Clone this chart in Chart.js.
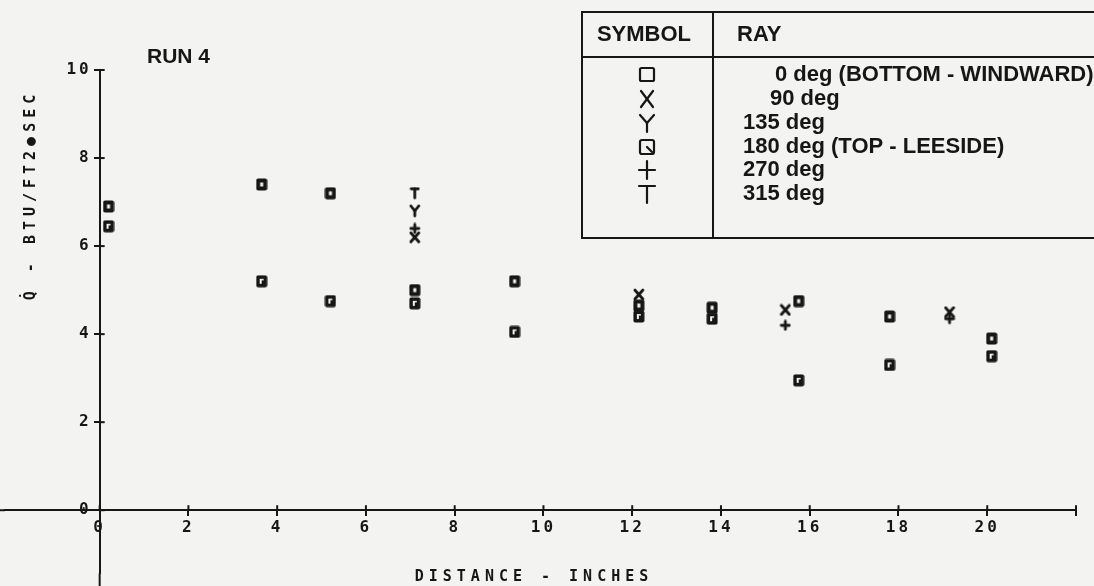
<!DOCTYPE html>
<html>
<head>
<meta charset="utf-8">
<script src="https://cdn.jsdelivr.net/npm/chart.js@4.4.1/dist/chart.umd.min.js"></script>
<style>
  html, body { margin: 0; padding: 0; background: #f3f3f1; }
  canvas { display: block; }
</style>
</head>
<body>
<canvas id="heatChart" width="1094" height="586"></canvas>
<script>
// tick labels
const xTicks = [0, 2, 4, 6, 8, 10, 12, 14, 16, 18, 20];
const yTicks = [0, 2, 4, 6, 8, 10];

const stationX = [0.2, 3.65, 5.2, 7.1, 9.35, 12.15, 13.8, 15.75, 17.8, 20.1];
const ray0Q = [6.9, 7.4, 7.2, 5.0, 5.2, 4.65, 4.6, 4.75, 4.4, 3.9];
const ray180Q = [6.45, 5.2, 4.75, 4.7, 4.05, 4.4, 4.35, 2.95, 3.3, 3.5];
const ray90X = [7.1, 12.15, 15.45, 19.15];
const ray90Q = [6.2, 4.9, 4.55, 4.5];
const ray135X = [7.1];
const ray135Q = [6.8];
const ray270X = [7.1, 15.45, 19.15];
const ray270Q = [6.4, 4.2, 4.35];
const ray315X = [7.1];
const ray315Q = [7.2];

const rayLabels = ['0 deg (BOTTOM - WINDWARD)', '90 deg', '135 deg', '180 deg (TOP - LEESIDE)', '270 deg', '315 deg'];

const INK = '#161616';
const PAPER = '#f3f3f1';
const PLOT_FONT = '"DejaVu Sans Mono", monospace';

// little canvases used as point symbols
function glyph(w, h, draw) {
    const c = document.createElement('canvas');
    c.width = w;
    c.height = h;
    const g = c.getContext('2d');
    g.strokeStyle = INK;
    g.fillStyle = INK;
    g.lineCap = 'round';
    g.lineWidth = 2.8;
    draw(g, w, h);
    return c;
}

function line(g, x1, y1, x2, y2) {
    g.beginPath();
    g.moveTo(x1, y1);
    g.lineTo(x2, y2);
    g.stroke();
}

const squareMark = glyph(12, 13, (g) => {
    g.beginPath();
    g.roundRect(0.5, 0.5, 11, 12, 2);
    g.fill();
    g.fillStyle = PAPER;
    g.fillRect(4.5, 4.5, 3, 4);
});
const leeMark = glyph(12, 13, (g) => {
    g.beginPath();
    g.roundRect(0.5, 0.5, 11, 12, 2);
    g.fill();
    g.fillStyle = PAPER;
    g.fillRect(4, 4, 2, 5);
    g.fillRect(4, 4, 4, 1.5);
});
const xMark = glyph(12, 13, (g) => {
    line(g, 2, 2, 10, 11);
    line(g, 10, 2, 2, 11);
});
const yMark = glyph(12, 14, (g) => {
    line(g, 2, 2, 6, 7);
    line(g, 10, 2, 6, 7);
    line(g, 6, 7, 6, 12);
});
const plusMark = glyph(12, 12, (g) => {
    line(g, 2, 6, 10, 6);
    line(g, 6, 2, 6, 10);
});
const tMark = glyph(11, 13, (g) => {
    line(g, 2, 2, 9, 2);
    line(g, 5.5, 2, 5.5, 11);
});

function pts(xs, ys) {
    return xs.map((x, i) => ({ x: x, y: ys[i] }));
}

function series(label, xs, ys, mark) {
    return {
        label: label,
        data: pts(xs, ys),
        pointStyle: mark,
        showLine: false
    };
}

// cross-shaped tick marks, y labels, axis titles, run label and the symbol table
const decorations = {
    id: 'decorations',
    beforeDraw(chart) {
        chart.ctx.letterSpacing = '3px';
    },
    afterDraw(chart) {
        const ctx = chart.ctx;
        const xs = chart.scales.x;
        const ys = chart.scales.y;
        const area = chart.chartArea;
        const axisY = ys.getPixelForValue(0);
        const axisX = xs.getPixelForValue(0);
        ctx.save();
        ctx.strokeStyle = INK;
        ctx.fillStyle = INK;
        ctx.lineWidth = 2;
        // the axes run on to the page edges
        line(ctx, 0, axisY, area.left, axisY);
        line(ctx, axisX, area.bottom, axisX, chart.height);
        xs.ticks.forEach(t => {
            const px = xs.getPixelForValue(t.value);
            line(ctx, px, axisY - 5, px, axisY);
        });
        ctx.font = 'bold 16px ' + PLOT_FONT;
        ctx.textAlign = 'right';
        ctx.textBaseline = 'middle';
        ys.ticks.forEach(t => {
            const py = ys.getPixelForValue(t.value);
            line(ctx, axisX, py, axisX + 5, py);
            ctx.fillText(String(t.value), axisX - 8, py);
        });

        // axis titles in plotter lettering
        ctx.font = 'bold 15px ' + PLOT_FONT;
        ctx.letterSpacing = '5px';
        ctx.textAlign = 'center';
        ctx.fillText('DISTANCE - INCHES', 534, 577);
        ctx.save();
        ctx.translate(31, 195);
        ctx.rotate(-Math.PI / 2);
        ctx.fillText('Q\u0307 - BTU/FT2\u25CFSEC', 0, 0);
        ctx.restore();

        ctx.letterSpacing = '0px';
        ctx.font = 'bold 21px "Liberation Sans", Arial, sans-serif';
        ctx.textAlign = 'left';
        ctx.fillText('RUN 4', 147, 57);

        // symbol table
        const left = 582, top = 12, bottom = 238, headY = 57, colX = 713;
        ctx.font = 'bold 22px "Liberation Sans", Arial, sans-serif';
        ctx.lineWidth = 2;
        ctx.strokeRect(left, top, 1094 - left + 10, bottom - top);
        line(ctx, left, headY, 1094, headY);
        line(ctx, colX, top, colX, bottom);
        ctx.textAlign = 'center';
        ctx.fillText('SYMBOL', 644, 35);
        ctx.textAlign = 'left';
        ctx.fillText('RAY', 737, 35);

        const rowY = [75, 99, 123, 147, 170, 194];
        const textX = [775, 770, 743, 743, 743, 743];
        rayLabels.forEach((lab, i) => {
            ctx.fillText(lab, textX[i], rowY[i]);
        });

        const cx = 647;
        ctx.lineWidth = 2.2;
        ctx.lineCap = 'round';
        // 0 deg
        ctx.beginPath();
        ctx.roundRect(cx - 7, rowY[0] - 7, 14, 13, 1.5);
        ctx.stroke();
        // 90 deg
        line(ctx, cx - 6, rowY[1] - 8, cx + 6, rowY[1] + 8);
        line(ctx, cx + 6, rowY[1] - 8, cx - 6, rowY[1] + 8);
        // 135 deg
        line(ctx, cx - 7, rowY[2] - 8, cx, rowY[2]);
        line(ctx, cx + 7, rowY[2] - 8, cx, rowY[2]);
        line(ctx, cx, rowY[2], cx, rowY[2] + 9);
        // 180 deg
        ctx.beginPath();
        ctx.roundRect(cx - 7, rowY[3] - 7, 14, 14, 2);
        ctx.stroke();
        line(ctx, cx, rowY[3], cx + 5, rowY[3] + 5);
        // 270 deg
        line(ctx, cx - 8, rowY[4], cx + 8, rowY[4]);
        line(ctx, cx, rowY[4] - 9, cx, rowY[4] + 9);
        // 315 deg
        line(ctx, cx - 8, rowY[5] - 8, cx + 8, rowY[5] - 8);
        line(ctx, cx, rowY[5] - 8, cx, rowY[5] + 9);
        ctx.restore();
    }
};

const heatChart = document.getElementById('heatChart');
new Chart(heatChart, {
    type: 'scatter',
    data: {
        datasets: [
            series('0 deg', stationX, ray0Q, squareMark),
            series('180 deg', stationX, ray180Q, leeMark),
            series('90 deg', ray90X, ray90Q, xMark),
            series('135 deg', ray135X, ray135Q, yMark),
            series('270 deg', ray270X, ray270Q, plusMark),
            series('315 deg', ray315X, ray315Q, tMark)
        ]
    },
    options: {
        responsive: false,
        animation: false,
        layout: {
            padding: { left: 0, right: 18, top: 70, bottom: 0 }
        },
        plugins: {
            legend: { display: false },
            tooltip: { enabled: false }
        },
        scales: {
            x: {
                type: 'linear',
                min: -2.133,
                max: 22,
                position: { y: 0 },
                afterBuildTicks: (s) => {
                    s.ticks = xTicks.concat([22]).map(v => ({ value: v }));
                },
                ticks: {
                    callback: (v) => (v === 22 ? '' : String(v)),
                    color: INK,
                    font: { family: PLOT_FONT, size: 16, weight: 'bold' },
                    padding: 3,
                    maxRotation: 0,
                    autoSkip: false
                },
                grid: { drawOnChartArea: false, color: INK, lineWidth: 2, tickLength: 5 },
                border: { color: INK, width: 2 }
            },
            y: {
                type: 'linear',
                min: -1.435,
                max: 10,
                position: { x: 0 },
                afterBuildTicks: (s) => {
                    s.ticks = yTicks.map(v => ({ value: v }));
                },
                ticks: {
                    // labels are lettered by the decorations plugin
                    color: 'rgba(0,0,0,0)',
                    font: { family: PLOT_FONT, size: 16, weight: 'bold' },
                    padding: 3,
                    autoSkip: false
                },
                grid: { drawOnChartArea: false, color: INK, lineWidth: 2, tickLength: 5 },
                border: { color: INK, width: 2 }
            }
        }
    },
    plugins: [decorations]
});
</script>
</body>
</html>
